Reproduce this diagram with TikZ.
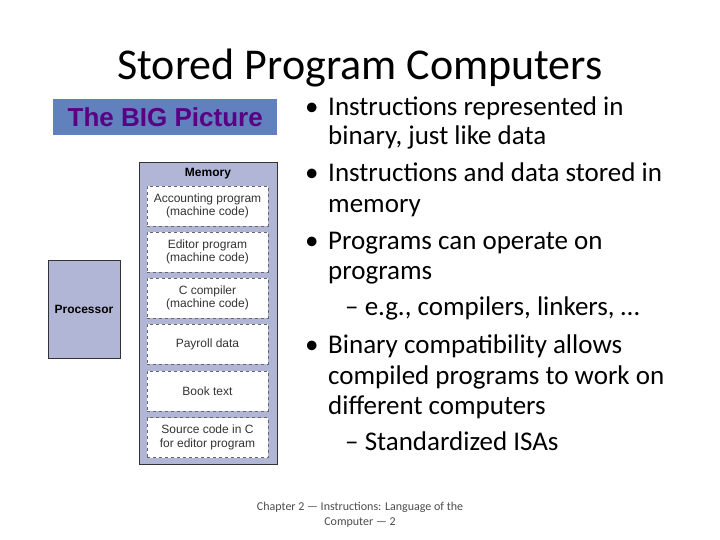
\documentclass[tikz,border=0pt]{standalone}
\usepackage{fontspec}
\setmainfont{Carlito}
\newfontfamily\arialf{Liberation Sans}
\definecolor{figfill}{RGB}{178,182,214}
\definecolor{bigfill}{RGB}{96,128,190}
\definecolor{bigtext}{RGB}{90,0,130}
\begin{document}
\begin{tikzpicture}[x=1pt,y=-1pt,
  fig/.style={draw=black!80,fill=figfill,line width=0.8pt},
  membox/.style={draw=black!60,dashed,fill=white,minimum width=121pt,minimum height=40pt,align=center,font=\arialf\fontsize{12}{13.5}\selectfont,text=black!80,inner sep=0pt},
  bul/.style={anchor=base west,font=\fontsize{27}{30}\selectfont,inner sep=0pt}]
\useasboundingbox (0,0) rectangle (720,540);
\node[font=\fontsize{44}{48}\selectfont] (title) at (360,68) {Stored Program Computers};
\node[fill=bigfill,minimum width=224pt,minimum height=36pt,anchor=north west,font=\arialf\bfseries\fontsize{26}{28}\selectfont,text=bigtext,inner sep=0pt] (big) at (53,99) {The BIG Picture};
\node[fig,minimum width=138pt,minimum height=302pt,anchor=north west,inner sep=0pt] (mem) at (139,162) {};
\node[font=\arialf\bfseries\fontsize{12}{13}\selectfont] (memlbl) at (208,174) {Memory};
\node[fig,minimum width=72pt,minimum height=98pt,anchor=north west,inner sep=0pt] (proc) at (48,260) {};
\node[font=\arialf\bfseries\fontsize{12}{13}\selectfont] (proclbl) at (84,309) {Processor};
\node[membox] (m1) at (207.5,206) {Accounting program\\(machine code)};
\node[membox] (m2) at (207.5,252) {Editor program\\(machine code)};
\node[membox] (m3) at (207.5,298) {C compiler\\(machine code)};
\node[membox] (m4) at (207.5,344) {Payroll data};
\node[membox] (m5) at (207.5,391) {Book text};
\node[membox] (m6) at (207.5,437.5) {Source code in C\\for editor program};
\foreach \n/\y in {d1/116,d2/182,d3/249,d4/353}{\node[bul] (\n) at (305,\y) {•};}
\node[bul] (b1) at (328,116) {Instructions represented in};
\node[bul] (b1b) at (328,145) {binary, just like data};
\node[bul] (b2) at (328,182) {Instructions and data stored in};
\node[bul] (b2b) at (328,212) {memory};
\node[bul] (b3) at (328,249) {Programs can operate on};
\node[bul] (b3b) at (328,279) {programs};
\node[bul] (b3c) at (345,315) {– e.g., compilers, linkers, …};
\node[bul] (b4) at (328,353) {Binary compatibility allows};
\node[bul] (b4b) at (328,384) {compiled programs to work on};
\node[bul] (b4c) at (328,414) {different computers};
\node[bul] (b4d) at (345,450) {– Standardized ISAs};
\node[font=\fontsize{12}{15}\selectfont,text=black!70,align=center] (foot) at (360,515) {Chapter 2 — Instructions: Language of the\\Computer — 2};
\end{tikzpicture}
\end{document}
